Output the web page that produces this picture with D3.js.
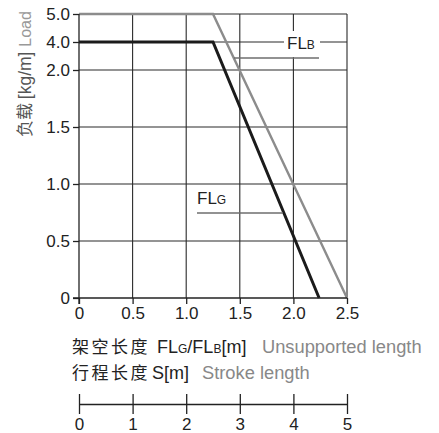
<!DOCTYPE html>
<html>
<head>
<meta charset="utf-8">
<script src="https://cdn.jsdelivr.net/npm/d3@7"></script>
<style>
  body { margin: 0; background: #fff; }
  svg text { font-family: "Liberation Sans", Arial, sans-serif; }
  .cjk { font-family: "Noto Sans CJK SC", sans-serif; }
</style>
</head>
<body>
<div id="chart"></div>
<script>
// unsupported length [m] vs load [kg/m]
var flgX = [0, 1.25, 2.24]
var flgY = [4.0, 4.0, 0]
var flbX = [0, 1.25, 2.5]
var flbY = [5.0, 5.0, 0]

var xTicks = [0, 0.5, 1.0, 1.5, 2.0, 2.5]
var yTicks = [0, 0.5, 1.0, 1.5, 2.0, 4.0, 5.0]
var strokeTicks = [0, 1, 2, 3, 4, 5]

var W = 439, H = 433

var svg = d3.select('#chart').append('svg')
  .attr('width', W).attr('height', H)
svg.append('rect').attr('width', W).attr('height', H).attr('fill', '#fff')

// broken y scale: 0-2 linear, then 4 and 5 squeezed on top
var x = d3.scaleLinear().domain([0, 2.5]).range([79, 347])
var y = d3.scaleLinear().domain([0, 2, 4, 5]).range([298, 70, 42, 14])
var s = d3.scaleLinear().domain([0, 5]).range([79, 347])

var grid = svg.append('g').attr('stroke', '#2a2a2a').attr('stroke-width', 1.1)
grid.selectAll('line.v').data(xTicks.slice(1)).join('line')
  .attr('x1', d => x(d)).attr('x2', d => x(d))
  .attr('y1', y(5)).attr('y2', y(0))
grid.selectAll('line.h').data(yTicks.slice(1)).join('line')
  .attr('x1', x(0)).attr('x2', x(2.5))
  .attr('y1', d => y(d)).attr('y2', d => y(d))

// white patch behind FLB label
svg.append('rect').attr('x', 284).attr('y', 31).attr('width', 36).attr('height', 26).attr('fill', '#fff')

var line = d3.line().x(d => x(d[0])).y(d => y(d[1]))

svg.append('path')
  .attr('d', line(d3.zip(flbX, flbY)))
  .attr('fill', 'none').attr('stroke', '#8c8c8c').attr('stroke-width', 2.4)
svg.append('path')
  .attr('d', line(d3.zip(flgX, flgY)))
  .attr('fill', 'none').attr('stroke', '#1b1b1b').attr('stroke-width', 3)

// leader lines
svg.append('line').attr('x1', 234).attr('x2', 319).attr('y1', 58).attr('y2', 58)
  .attr('stroke', '#6e6e6e').attr('stroke-width', 1.5)
svg.append('line').attr('x1', 197).attr('x2', 283).attr('y1', 213).attr('y2', 213)
  .attr('stroke', '#6e6e6e').attr('stroke-width', 1.5)

function flLabel(px, py, sub) {
  var t = svg.append('text').attr('x', px).attr('y', py)
    .attr('fill', '#222').attr('font-size', 17)
  t.append('tspan').text('FL')
  t.append('tspan').attr('font-size', 12).text(sub)
}
flLabel(287, 49, 'B')
flLabel(197, 204, 'G')

// axes
var fmt = d => d === 0 ? '0' : d.toFixed(1)
var yAxis = svg.append('g').attr('transform', 'translate(' + x(0) + ',0)')
  .call(d3.axisLeft(y).tickValues(yTicks).tickFormat(fmt).tickSizeOuter(0).tickSizeInner(6).tickPadding(3))
var xAxis = svg.append('g').attr('transform', 'translate(0,' + y(0) + ')')
  .call(d3.axisBottom(x).tickValues(xTicks).tickFormat(fmt).tickSizeOuter(0).tickSizeInner(6).tickPadding(3))
var sAxis = svg.append('g').attr('transform', 'translate(0,404)')
  .call(d3.axisBottom(s).tickValues(strokeTicks).tickFormat(d3.format('d')).tickSizeOuter(0).tickSizeInner(0).tickPadding(14))
sAxis.selectAll('.tick line').attr('y1', -10).attr('y2', 10)

;[yAxis, xAxis, sAxis].forEach(function(a) {
  a.select('.domain').attr('stroke', '#222').attr('stroke-width', 1.3)
  a.selectAll('.tick line').attr('stroke', '#222').attr('stroke-width', 1.3)
  a.selectAll('.tick text').attr('font-size', 17).attr('fill', '#222')
    .attr('font-family', '"Liberation Sans", Arial, sans-serif')
})
xAxis.select('.domain').attr('d', 'M' + (x(0) - 6) + ',0H' + x(2.5))
yAxis.select('.domain').attr('d', 'M0,' + y(5) + 'V' + (y(0) + 6))

// y label
var yl = svg.append('text').attr('transform', 'translate(31,137) rotate(-90)')
  .attr('font-size', 17)
yl.append('tspan').attr('class', 'cjk').attr('fill', '#555').attr('font-size', 17).text('负载 ')
yl.append('tspan').attr('fill', '#555').attr('font-size', 17.5).text('[kg/m] ')
yl.append('tspan').attr('fill', '#999').attr('font-size', 16).text('Load')

// x labels
var l1 = svg.append('text').attr('y', 353).attr('font-size', 18)
l1.append('tspan').attr('class', 'cjk').attr('x', 72).attr('fill', '#222')
  .attr('font-size', 17).attr('letter-spacing', 2.5).text('架空长度')
l1.append('tspan').attr('x', 157).attr('fill', '#222').text('FL')
l1.append('tspan').attr('fill', '#222').attr('font-size', 12).text('G')
l1.append('tspan').attr('fill', '#222').text('/FL')
l1.append('tspan').attr('fill', '#222').attr('font-size', 12).text('B')
l1.append('tspan').attr('fill', '#222').text('[m]')
l1.append('tspan').attr('x', 262).attr('fill', '#888').attr('font-size', 18.3).text('Unsupported length')

var l2 = svg.append('text').attr('y', 379).attr('font-size', 18)
l2.append('tspan').attr('class', 'cjk').attr('x', 72).attr('fill', '#222')
  .attr('font-size', 17).attr('letter-spacing', 2.5).text('行程长度')
l2.append('tspan').attr('x', 152).attr('fill', '#222').text('S[m]')
l2.append('tspan').attr('x', 202).attr('fill', '#888').attr('font-size', 18.3).text('Stroke length')
</script>
</body>
</html>
